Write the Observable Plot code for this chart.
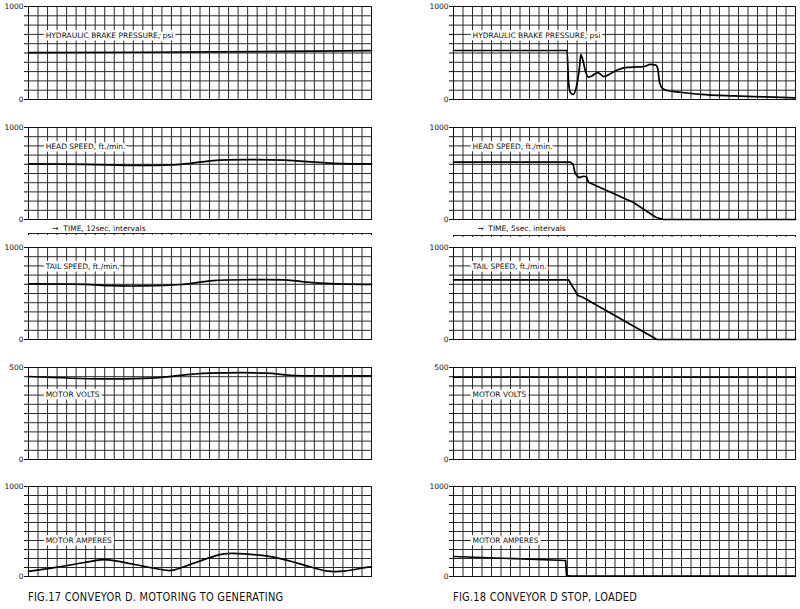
<!DOCTYPE html>
<html><head><meta charset="utf-8">
<script src="https://cdn.jsdelivr.net/npm/d3@7"></script>
<script src="https://cdn.jsdelivr.net/npm/@observablehq/plot@0.6"></script>
<style>
body{margin:0;background:#fff;}
#root{position:relative;width:800px;height:609px;overflow:hidden;font-family:"DejaVu Sans",sans-serif;background:#fff;}
#root .p{position:absolute;}
.cap{position:absolute;font-size:12px;white-space:nowrap;transform-origin:0 50%;transform:scaleX(0.82);color:#111;font-family:"DejaVu Sans",sans-serif;letter-spacing:0.3px;}
</style></head><body><div id="root"></div>
<script>
// ---------- DATA (time in chart-grid intervals, 0..36) ----------
const gridIntervals = 36;
const fullScaleTicks = ["0", "1000"];
const voltTicks = ["0", "500"];

// FIG. 17  Conveyor D, motoring to generating (12 sec. intervals)
const fig17PressureT = [0, 12, 24, 36];
const fig17Pressure  = [505, 508, 515, 525];
const fig17HeadT = [0, 6, 11.8, 16, 19.4, 23.3, 26.8, 30.6, 32.7, 36];
const fig17Head  = [605, 600, 588, 600, 640, 650, 645, 620, 608, 605];
const fig17TailT = [0, 6, 8.6, 11.8, 16, 19.4, 23.3, 27.2, 29.5, 31.7, 36];
const fig17Tail  = [605, 600, 585, 582, 598, 640, 650, 646, 621, 608, 600];
const fig17VoltsT = [0, 7.6, 12.8, 17.3, 19, 25, 27.5, 36];
const fig17Volts  = [451, 438, 442, 464, 469, 469, 458, 455];
const fig17AmpsT = [0, 4.1, 7.6, 8.6, 14.6, 15.2, 20.5, 23.3, 25.7, 28.5, 31.4, 33.1, 35.6, 36];
const fig17Amps  = [56, 122, 185, 183, 67, 70, 252, 245, 215, 141, 59, 59, 104, 108];

// FIG. 18  Conveyor D stop, loaded (5 sec. intervals)
const fig18PressureT = [0, 11.95, 12.1, 12.3, 12.6, 12.9, 13.3, 13.4, 13.6, 13.9, 14.2, 14.5, 15.2, 15.8, 16.3, 17.3, 18.3, 19.4, 20.1, 20.7, 21.3, 21.5, 21.7, 22, 22.5, 23.9, 26, 29.5, 32.8, 36];
const fig18Pressure  = [527, 527, 200, 75, 55, 120, 380, 484, 430, 300, 240, 250, 290, 247, 265, 320, 345, 350, 355, 378, 370, 330, 180, 120, 97, 78, 55, 38, 28, 18];
const fig18HeadT = [0, 12.3, 12.6, 12.8, 13.2, 13.7, 14.0, 14.2, 18.9, 21.3, 22.1, 36];
const fig18Head  = [623, 623, 600, 500, 455, 470, 465, 405, 188, 25, 0, 0];
const fig18TailT = [0, 12.1, 13.1, 13.6, 21.1, 21.4, 36];
const fig18Tail  = [649, 649, 478, 460, 18, 0, 0];
const fig18VoltsT = [0, 36];
const fig18Volts  = [447, 447];
const fig18AmpsT = [0, 11.8, 11.9, 12.3, 36];
const fig18Amps  = [222, 178, 11, 5, 5];

const labels = ["HYDRAULIC BRAKE PRESSURE, psi", "HEAD SPEED, ft./min.", "TAIL SPEED, ft./min.", "MOTOR VOLTS", "MOTOR AMPERES"];
const timeLabels = ["\u2192  TIME, 12sec. intervals", "\u2192  TIME, 5sec. intervals"];
const captions = ["FIG.17 CONVEYOR D. MOTORING TO GENERATING", "FIG.18 CONVEYOR D  STOP, LOADED"];

// ---------- LAYOUT ----------
const root = document.getElementById("root");
const rows = [[6, 99], [127, 219], [247, 339], [367, 459], [486, 576]];
const sides = {
  L: {left: 0, mL: 28, mR: 29},
  R: {left: 400, mL: 53, mR: 5}
};
const labelVal = [688, 793, 793, 353, 400];

function panel(side, row, t, v, max, tickLabels, labelText, lx, curve) {
  const s = sides[side];
  const [top, bot] = rows[row];
  const mT = 4, mB = 4;
  const data = t.map((x, i) => ({x, y: v[i]}));
  const step = max / 10;
  const chart = Plot.plot({
    width: 400, height: (bot - top) + mT + mB,
    marginLeft: s.mL, marginRight: s.mR, marginTop: mT, marginBottom: mB,
    style: {background: "transparent", fontFamily: "DejaVu Sans, sans-serif", fontSize: "8px", color: "#111", overflow: "visible"},
    x: {domain: [0, gridIntervals], axis: null},
    y: {domain: [0, max], axis: null},
    marks: [
      Plot.ruleX(d3.range(0, gridIntervals + 1), {stroke: "#2a2a2a", strokeWidth: 1}),
      Plot.ruleY(d3.range(0, max + step / 2, step), {stroke: "#2a2a2a", strokeWidth: 1}),
      Plot.axisY({ticks: d3.range(0, max + step / 2, step), tickSize: 4, tickPadding: 1, fontSize: 7.5, label: null,
        tickFormat: d => (d === 0 ? tickLabels[0] : (Math.abs(d - max) < 1e-6 ? tickLabels[1] : ""))}),
      Plot.frame({stroke: "#111", strokeWidth: 1}),
      Plot.text([labelText], {x: lx, y: labelVal[row] * max / (row === 3 ? 500 : 1000), text: d => d, textAnchor: "start",
        fill: "#111", stroke: "white", strokeWidth: 5, fontSize: 7.5}),
      Plot.line(data, {x: "x", y: "y", stroke: "#000", strokeWidth: 1.7, curve: curve})
    ]
  });
  chart.classList.add("p");
  chart.style.left = s.left + "px";
  chart.style.top = (top - mT) + "px";
  root.appendChild(chart);
}

function timeStrip(side, text, lineY) {
  const s = sides[side];
  const chart = Plot.plot({
    width: 400, height: 20, marginLeft: s.mL, marginRight: s.mR, marginTop: 0, marginBottom: 0,
    style: {background: "transparent", fontFamily: "DejaVu Sans, sans-serif"},
    x: {domain: [0, gridIntervals], axis: null},
    y: {domain: [0, 20], range: [0, 20], axis: null},
    marks: [
      Plot.ruleY([lineY], {stroke: "#222", strokeWidth: 1}),
      Plot.ruleX(d3.range(0, gridIntervals + 1), {y1: lineY, y2: lineY + 2, stroke: "#222", strokeWidth: 1}),
      Plot.text([text], {x: 2.5, y: 8, text: d => d, textAnchor: "start", fontSize: 7.5, fill: "#111"})
    ]
  });
  chart.classList.add("p");
  chart.style.left = s.left + "px";
  chart.style.top = "220px";
  root.appendChild(chart);
}

// Fig 17 (left)
panel("L", 0, fig17PressureT, fig17Pressure, 1000, fullScaleTicks, labels[0], 1.8, "linear");
panel("L", 1, fig17HeadT, fig17Head, 1000, fullScaleTicks, labels[1], 1.8, "catmull-rom");
panel("L", 2, fig17TailT, fig17Tail, 1000, fullScaleTicks, labels[2], 1.8, "catmull-rom");
panel("L", 3, fig17VoltsT, fig17Volts, 500, voltTicks, labels[3], 1.8, "catmull-rom");
panel("L", 4, fig17AmpsT, fig17Amps, 1000, fullScaleTicks, labels[4], 1.8, "catmull-rom");
// Fig 18 (right)
panel("R", 0, fig18PressureT, fig18Pressure, 1000, fullScaleTicks, labels[0], 2.0, "monotone-x");
panel("R", 1, fig18HeadT, fig18Head, 1000, fullScaleTicks, labels[1], 2.0, "linear");
panel("R", 2, fig18TailT, fig18Tail, 1000, fullScaleTicks, labels[2], 2.0, "linear");
panel("R", 3, fig18VoltsT, fig18Volts, 500, voltTicks, labels[3], 2.0, "linear");
panel("R", 4, fig18AmpsT, fig18Amps, 1000, fullScaleTicks, labels[4], 2.0, "linear");

timeStrip("L", timeLabels[0], 13);
timeStrip("R", timeLabels[1], 15);

[[28, captions[0]], [453, captions[1]]].forEach(([x, c]) => {
  const d = document.createElement("div");
  d.className = "cap";
  d.style.left = x + "px";
  d.style.top = "590px";
  d.textContent = c;
  root.appendChild(d);
});
</script></body></html>
